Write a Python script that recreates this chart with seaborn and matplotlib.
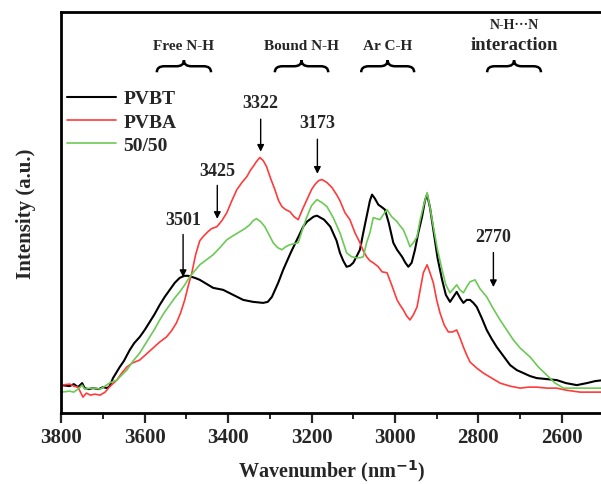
import matplotlib
matplotlib.use('Agg')
import matplotlib.pyplot as plt
from matplotlib.path import Path
from matplotlib.patches import PathPatch
import numpy as np
import seaborn as sns

# spectra (wavenumber, intensity a.u.)
pvbt_wn = [3800, 3780, 3770, 3760, 3750, 3744, 3735, 3724, 3710, 3700, 3690, 3684, 3676, 3660, 3650,
           3636, 3625, 3612, 3600, 3588, 3576, 3564, 3552, 3540, 3528, 3516, 3505, 3496, 3480, 3468,
           3452, 3436, 3412, 3388, 3364, 3340, 3316, 3305, 3295, 3280, 3268, 3250, 3235, 3220, 3211,
           3195, 3187, 3170, 3155, 3140, 3132, 3124, 3116, 3108, 3100, 3090, 3084, 3076, 3068, 3060,
           3055, 3048, 3040, 3030, 3024, 3015, 3004, 2995, 2983, 2975, 2968, 2960, 2952, 2944, 2935,
           2928, 2923, 2916, 2908, 2898, 2887, 2878, 2868, 2860, 2852, 2844, 2836, 2828, 2820, 2812,
           2804, 2792, 2780, 2768, 2756, 2740, 2724, 2708, 2692, 2676, 2660, 2636, 2612, 2590, 2564,
           2540, 2520, 2500]
pvbt_int = [28, 27, 29, 26, 30, 25, 24, 25, 24, 26, 25, 27, 35, 46, 52,
            63, 70, 76, 83, 91, 99, 108, 116, 123, 130, 135, 137, 137, 135, 133,
            129, 125, 123, 118, 113, 111, 110, 111, 116, 130, 143, 160, 173, 186, 191,
            196, 197, 193, 186, 172, 160, 152, 146, 147, 150, 158, 163, 180, 196, 212,
            218, 214, 208, 205, 203, 190, 170, 163, 156, 150, 146, 150, 163, 180, 196,
            212, 218, 205, 183, 155, 133, 118, 111, 116, 121, 115, 110, 113, 113, 110,
            106, 95, 83, 74, 66, 57, 48, 43, 40, 37, 35, 34, 33, 30, 28,
            30, 32, 33]

pvba_wn = [3800, 3780, 3770, 3760, 3748, 3740, 3730, 3720, 3707, 3695, 3685, 3667, 3655, 3643, 3630,
           3612, 3596, 3580, 3564, 3548, 3536, 3524, 3514, 3504, 3495, 3487, 3478, 3468, 3460, 3451,
           3440, 3427, 3415, 3403, 3391, 3379, 3367, 3355, 3347, 3340, 3332, 3324, 3316, 3308, 3298,
           3288, 3279, 3271, 3262, 3252, 3242, 3232, 3222, 3211, 3200, 3192, 3183, 3175, 3163, 3151,
           3140, 3132, 3120, 3108, 3096, 3084, 3076, 3068, 3060, 3052, 3040, 3031, 3019, 3008, 2995,
           2988, 2980, 2972, 2964, 2956, 2947, 2940, 2932, 2923, 2916, 2908, 2900, 2892, 2882, 2872,
           2862, 2852, 2844, 2836, 2828, 2820, 2804, 2788, 2768, 2748, 2724, 2700, 2680, 2660, 2636,
           2612, 2590, 2556, 2530, 2500]
pvba_int = [28, 29, 27, 26, 16, 20, 18, 19, 18, 21, 26, 33, 40, 46, 50,
            53, 59, 65, 71, 76, 82, 90, 100, 113, 128, 140, 158, 172, 176, 180,
            184, 186, 192, 200, 212, 223, 230, 236, 242, 246, 251, 255, 252, 246, 234,
            223, 212, 206, 203, 201, 196, 193, 203, 213, 223, 228, 232, 233, 230, 225,
            218, 212, 200, 193, 180, 170, 162, 156, 152, 150, 146, 141, 140, 128, 113,
            108, 103, 97, 93, 98, 106, 122, 140, 148, 140, 130, 113, 100, 88, 81,
            81, 83, 75, 66, 58, 51, 45, 40, 35, 30, 27, 25, 26, 26, 25,
            25, 23, 21, 21, 21]

mix_wn = [3800, 3780, 3770, 3760, 3750, 3744, 3730, 3720, 3707, 3695, 3685, 3667, 3655, 3643, 3628,
          3612, 3600, 3588, 3576, 3564, 3552, 3540, 3528, 3516, 3504, 3492, 3480, 3468, 3452, 3436,
          3420, 3403, 3388, 3372, 3360, 3348, 3340, 3332, 3322, 3312, 3302, 3292, 3281, 3271, 3262,
          3252, 3242, 3232, 3222, 3211, 3200, 3187, 3175, 3163, 3148, 3132, 3124, 3116, 3104, 3092,
          3084, 3076, 3068, 3060, 3052, 3044, 3036, 3028, 3019, 3008, 2995, 2988, 2980, 2972, 2964,
          2956, 2947, 2940, 2932, 2923, 2916, 2908, 2898, 2887, 2878, 2868, 2860, 2852, 2844, 2836,
          2828, 2820, 2808, 2796, 2780, 2764, 2748, 2732, 2716, 2700, 2676, 2656, 2636, 2616, 2596,
          2580, 2556, 2530, 2500]
mix_int = [21, 22, 21, 24, 28, 24, 25, 25, 24, 27, 30, 33, 38, 43, 52,
           60, 68, 76, 84, 93, 101, 108, 115, 121, 128, 136, 142, 148, 153, 158,
           165, 173, 177, 181, 184, 188, 192, 194, 191, 186, 178, 170, 165, 163, 166,
           168, 169, 170, 183, 196, 207, 213, 210, 206, 195, 180, 170, 160, 156, 155,
           155, 156, 170, 180, 195, 194, 193, 198, 203, 196, 191, 187, 183, 175, 166,
           170, 176, 192, 206, 220, 205, 186, 163, 143, 128, 120, 124, 128, 123, 120,
           126, 131, 133, 124, 116, 104, 93, 83, 73, 65, 56, 46, 38, 30, 25,
           25, 25, 25, 25]

series_labels = ['PVBT', 'PVBA', '50/50']
series_colors = ['black', '#ff3b3b', '#6cc955']

# peak annotations: label, wavenumber, arrow top, arrow tip, text y
peak_labels = ['3501', '3425', '3322', '3173', '2770']
peak_wn = [3508, 3426, 3322, 3186, 2764]
peak_arrow_top = [181, 230, 296, 276, 163]
peak_arrow_tip = [133, 191, 258, 236, 123]
peak_text_y = [193, 242, 310, 290, 176]

# group labels with braces
group_labels = ['Free N-H', 'Bound N-H', 'Ar C-H', 'interaction']
group_from = [3571, 3288, 3081, 2779]
group_to = [3441, 3160, 2954, 2650]

sns.set_style('white')
plt.rcParams['font.family'] = ['Liberation Serif', 'DejaVu Serif']
plt.rcParams['font.weight'] = 'bold'

fig = plt.figure(figsize=(6.01, 4.85), dpi=100)
ax = fig.add_axes([0.102, 0.146, 0.898, 0.827])

sns.lineplot(x=pvbt_wn, y=pvbt_int, ax=ax, color=series_colors[0], lw=1.5, label=series_labels[0],
             estimator=None, sort=False)
sns.lineplot(x=pvba_wn, y=pvba_int, ax=ax, color=series_colors[1], lw=1.2, label=series_labels[1],
             estimator=None, sort=False)
sns.lineplot(x=mix_wn, y=mix_int, ax=ax, color=series_colors[2], lw=1.2, label=series_labels[2],
             estimator=None, sort=False)

ax.set_xlim(3800, 2506)
ax.set_ylim(0, 400)
ax.set_xticks(np.arange(3800, 2500, -200))
ax.set_xticks(np.arange(3700, 2500, -200), minor=True)
ax.set_yticks([])
ax.tick_params(axis='x', which='major', direction='out', length=7, width=1.6, labelsize=15, pad=3,
               bottom=True)
ax.tick_params(axis='x', which='minor', direction='out', length=4, width=1.4, bottom=True)
for lab in ax.get_xticklabels():
    lab.set_fontweight('bold')

for side in ['left', 'bottom', 'top']:
    ax.spines[side].set_linewidth(2.0)
    ax.spines[side].set_color('black')
ax.spines['right'].set_visible(False)

ax.set_xlabel('Wavenumber (nm$^{\\mathbf{-1}}$)', fontsize=14.5, fontweight='bold', labelpad=7)
ax.set_ylabel('Intensity (a.u.)', fontsize=15, fontweight='bold', labelpad=18)

leg = ax.legend(loc='upper left', bbox_to_anchor=(-0.022, 0.85), frameon=False, handlelength=2.5,
                handletextpad=0.4, labelspacing=0.3, prop={'size': 14, 'weight': 'bold'})

for lab, wn, top, tip, ty in zip(peak_labels, peak_wn, peak_arrow_top, peak_arrow_tip, peak_text_y):
    ax.annotate('', xy=(wn, tip), xytext=(wn, top),
                arrowprops=dict(arrowstyle='-|>', color='black', lw=1.0, mutation_scale=10))
    ax.text(wn, ty, lab, ha='center', va='center', fontsize=13, fontweight='bold')


def brace(x0, x1, y, d=6, q=18):
    m = (x0 + x1) / 2
    verts = [(x0, y - d), (x0, y), (x0 - q, y),
             (m + q, y), (m, y), (m, y + d),
             (m, y), (m - q, y),
             (x1 + q, y), (x1, y), (x1, y - d)]
    codes = [Path.MOVETO, Path.CURVE3, Path.CURVE3,
             Path.LINETO, Path.CURVE3, Path.CURVE3,
             Path.CURVE3, Path.CURVE3,
             Path.LINETO, Path.CURVE3, Path.CURVE3]
    ax.add_patch(PathPatch(Path(verts, codes), fill=False, lw=1.8, color='black', clip_on=False))


for lab, a, b in zip(group_labels, group_from, group_to):
    brace(a, b, 346)
    if lab == 'interaction':
        ax.text((a + b) / 2, 368, lab, ha='center', va='center', fontsize=13.5, fontweight='bold')
        ax.text((a + b) / 2, 388, 'N-H\u00b7\u00b7\u00b7N', ha='center', va='center', fontsize=10,
                fontweight='bold', family=['Liberation Serif', 'DejaVu Serif'])
    else:
        ax.text((a + b) / 2, 367, lab, ha='center', va='center', fontsize=11, fontweight='bold')

fig.savefig('out.png', dpi=100)
